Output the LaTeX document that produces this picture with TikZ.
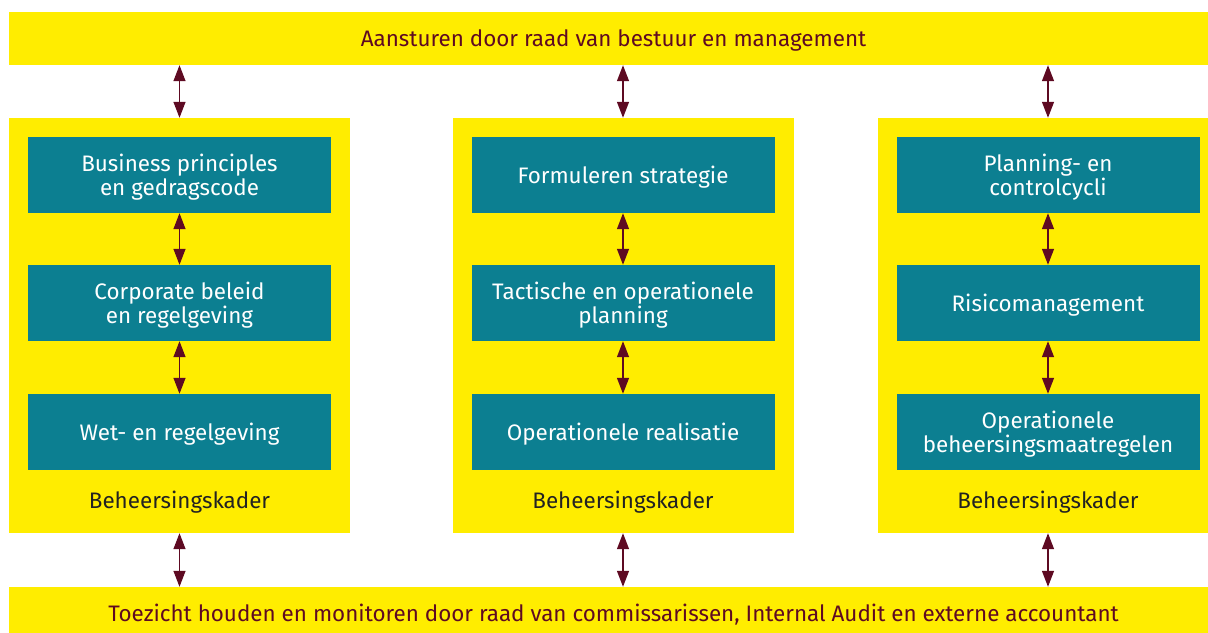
\documentclass[tikz,border=0pt]{standalone}
\usepackage{fontspec}
\setmainfont{Fira Sans}
\usetikzlibrary{arrows.meta}
\definecolor{ylw}{HTML}{FFED00}
\definecolor{tealc}{HTML}{0C7F91}
\definecolor{maroonc}{HTML}{5E0A22}
\definecolor{darkgrayc}{HTML}{222222}
\newcommand{\lowtext}[1]{\raisebox{-3.5bp}[\height][\depth]{\begin{tabular}{@{}c@{}}#1\end{tabular}}}
\tikzset{
  bar/.style={rectangle, fill=ylw, inner sep=0pt, minimum width=1209bp, minimum height=53bp, text=maroonc, font=\fontsize{22.5}{25}\selectfont},
  col/.style={rectangle, fill=ylw, inner sep=0pt, minimum width=341bp, minimum height=415bp},
  tbox/.style={rectangle, fill=tealc, inner sep=0pt, minimum width=303bp, minimum height=76bp, text=white, font=\fontsize{22.5}{25}\selectfont},
  kader/.style={text=darkgrayc, font=\fontsize{22.5}{25}\selectfont, inner sep=0pt},
  link/.style={draw=maroonc, line width=1.3bp, {Triangle[length=16bp,width=12bp]}-{Triangle[length=16bp,width=12bp]}, shorten <=0pt, shorten >=0pt}
}
\begin{document}
\begin{tikzpicture}[x=1bp,y=-1bp]
\useasboundingbox (0,0) rectangle (1208,633);
\node[bar] (top) at (613.5,38.5) {\lowtext{Aansturen door raad van bestuur en management}};
\node[bar, minimum height=52bp] (bot) at (613.5,613) {\lowtext{Toezicht houden en monitoren door raad van commissarissen, Internal Audit en externe accountant}};
% columns
\node[col] (c1) at (179.5,325.5) {};
\node[col] (c2) at (623,325.5) {};
\node[col] (c3) at (1048,325.5) {};
% left
\node[tbox] (a1) at (179.5,175) {\lowtext{Business principles\\en gedragscode}};
\node[tbox] (a2) at (179.5,303) {\lowtext{Corporate beleid\\en regelgeving}};
\node[tbox] (a3) at (179.5,432) {\lowtext{Wet- en regelgeving}};
\node[kader] (k1) at (179.5,500) {\lowtext{Beheersingskader}};
% middle
\node[tbox] (b1) at (623,175) {\lowtext{Formuleren strategie}};
\node[tbox] (b2) at (623,303) {\lowtext{Tactische en operationele\\planning}};
\node[tbox] (b3) at (623,432) {\lowtext{Operationele realisatie}};
\node[kader] (k2) at (623,500) {\lowtext{Beheersingskader}};
% right
\node[tbox] (d1) at (1048,175) {\lowtext{Planning- en\\controlcycli}};
\node[tbox] (d2) at (1048,303) {\lowtext{Risicomanagement}};
\node[tbox] (d3) at (1048,432) {\lowtext{Operationele\\beheersingsmaatregelen}};
\node[kader] (k3) at (1048,500) {\lowtext{Beheersingskader}};
% connectors
\draw[link] (c1.north |- top.south) -- (c1.north);
\draw[link] (c2.north |- top.south) -- (c2.north);
\draw[link] (c3.north |- top.south) -- (c3.north);
\draw[link] (c1.south) -- (c1.south |- bot.north);
\draw[link] (c2.south) -- (c2.south |- bot.north);
\draw[link] (c3.south) -- (c3.south |- bot.north);
\draw[link] (a1.south) -- (a2.north);
\draw[link] (a2.south) -- (a3.north);
\draw[link] (b1.south) -- (b2.north);
\draw[link] (b2.south) -- (b3.north);
\draw[link] (d1.south) -- (d2.north);
\draw[link] (d2.south) -- (d3.north);
\end{tikzpicture}
\end{document}
